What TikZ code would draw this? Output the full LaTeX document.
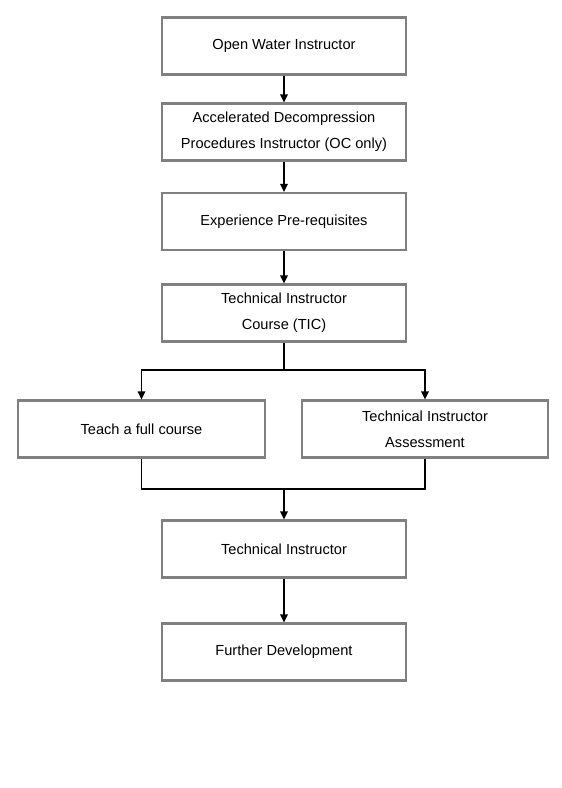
\documentclass[tikz,border=0pt]{standalone}
\usepackage{fontspec}
\setmainfont{Liberation Sans}
\usetikzlibrary{arrows.meta}
\begin{document}
\begin{tikzpicture}[x=1pt,y=-1pt,
  box/.style={draw=boxgray,line width=2.2pt,minimum width=244pt,minimum height=57pt,inner sep=0pt,align=center,font=\fontsize{14.6}{26}\selectfont},
  conn/.style={draw=black,line width=1.3pt},
  arr/.style={conn,-{Triangle[length=8pt,width=7.5pt]}}]
\definecolor{boxgray}{RGB}{128,128,128}
\useasboundingbox (0,0) rectangle (562,788);
\node[box] (ow) at (284,46) {Open Water Instructor};
\node[box] (adp) at (284,132) {Accelerated Decompression\\Procedures Instructor (OC only)};
\node[box] (exp) at (284,221.5) {Experience Pre-requisites};
\node[box] (tic) at (284,313) {Technical Instructor\\Course (TIC)};
\node[box,minimum width=247pt] (teach) at (141.5,429) {Teach a full course};
\node[box,minimum width=246pt] (tia) at (425,429) {Technical Instructor\\Assessment};
\node[box] (ti) at (284,549) {Technical Instructor};
\node[box] (fd) at (284,652) {Further Development};
\coordinate (split) at (284,370);
\coordinate (join) at (284,489);
\draw[arr] (ow) -- (adp);
\draw[arr] (adp) -- (exp);
\draw[arr] (exp) -- (tic);
\draw[conn] (tic) -- (split);
\draw[arr] (split) -| (teach);
\draw[arr] (split) -| (tia);
\draw[conn] (teach.south) |- (join);
\draw[conn] (tia.south) |- (join);
\draw[arr] (join) -- (ti);
\draw[arr] (ti) -- (fd);
\end{tikzpicture}
\end{document}
